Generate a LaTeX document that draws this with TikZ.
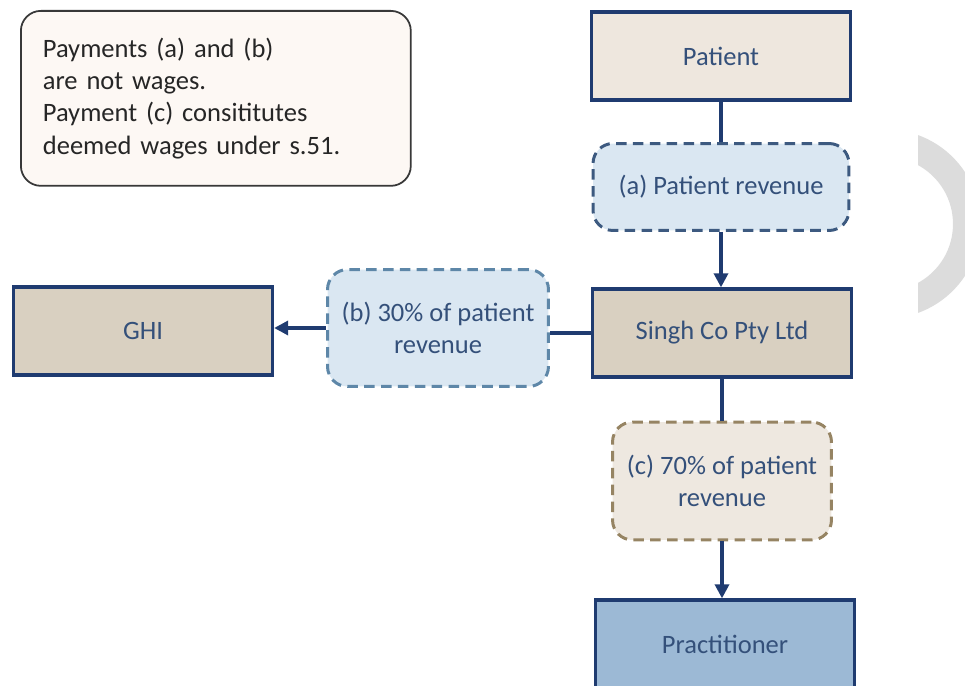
\documentclass[tikz,border=0pt]{standalone}
\usepackage{fontspec}
\setmainfont{Carlito}
\usetikzlibrary{arrows.meta}

\definecolor{navy}{HTML}{1F3B70}
\definecolor{inktext}{HTML}{34507A}
\definecolor{beige}{HTML}{EEE7DE}
\definecolor{tan}{HTML}{D9D0C1}
\definecolor{paleblue}{HTML}{DAE7F2}
\definecolor{midblue}{HTML}{9CB9D5}
\definecolor{dashnavy}{HTML}{3D5A80}
\definecolor{dashblue}{HTML}{5E87A8}
\definecolor{dashtan}{HTML}{968463}
\definecolor{paletan}{HTML}{EEE8E0}
\definecolor{notefill}{HTML}{FDF8F4}
\definecolor{ringgray}{HTML}{DCDCDC}

\tikzset{
  party/.style={draw=navy, line width=1.9pt, minimum width=5.18cm, minimum height=1.76cm,
    text=inktext, font=\fontsize{15.1}{18}\selectfont},
  payment/.style={draw, dashed, dash pattern=on 6pt off 3.6pt, line width=1.7pt,
    rounded corners=0.4cm, text=inktext, align=center, font=\fontsize{15.1}{18}\selectfont},
  link/.style={draw=navy, line width=1.9pt},
  flow/.style={link, -{Triangle[length=8pt,width=8pt]}},
}

\begin{document}
\begin{tikzpicture}[x=0.02cm,y=-0.02cm]
\clip (0,0) rectangle (965,686);

% grey ring on the right edge
\begin{scope}
\clip (918,0) rectangle (965,686);
\fill[ringgray, even odd rule] (886,224) circle (1.89cm) (886,224) circle (1.34cm);
\end{scope}

% note
\node[draw=black!78, fill=notefill, line width=1pt, rounded corners=0.4cm, anchor=north west,
  text width=6.92cm, inner xsep=0.44cm, minimum height=3.5cm, align=left, text=black!85,
  font=\fontsize{15.1}{18.3}\selectfont] (note) at (20,10)
  {Payments (a) and (b)\\are not wages.\\Payment (c) consititutes\\deemed wages under s.51.};

% parties
\node[party, fill=beige] (patient) at (721,56) {Patient};
\node[party, fill=tan] (singh) at (722,333) {Singh Co Pty Ltd};
\node[party, fill=tan] (ghi) at (143,331) {GHI};
\node[party, fill=midblue] (practitioner) at (725,644) {Practitioner};

% payments
\node[payment, draw=dashnavy, fill=paleblue, minimum width=5.12cm, minimum height=1.74cm] (pa) at (721,187) {(a) Patient revenue};
\node[payment, draw=dashblue, fill=paleblue, minimum width=4.42cm, minimum height=2.34cm] (pb) at (438,328) {(b) 30\% of patient\\revenue};
\node[payment, draw=dashtan, fill=paletan, minimum width=4.38cm, minimum height=2.36cm] (pc) at (722,481) {(c) 70\% of patient\\revenue};

% connectors
\draw[link] (patient.south) -- (patient.south |- pa.north);
\draw[flow] (pa.south) -- (pa.south |- singh.north);
\draw[link] (singh.west) -- (singh.west -| pb.east);
\draw[flow] (pb.west) -- (pb.west -| ghi.east);
\draw[link] (singh.south) -- (singh.south -| pc.north) -- (pc.north);
\draw[flow] (pc.south) -- (pc.south |- practitioner.north);
\end{tikzpicture}
\end{document}
